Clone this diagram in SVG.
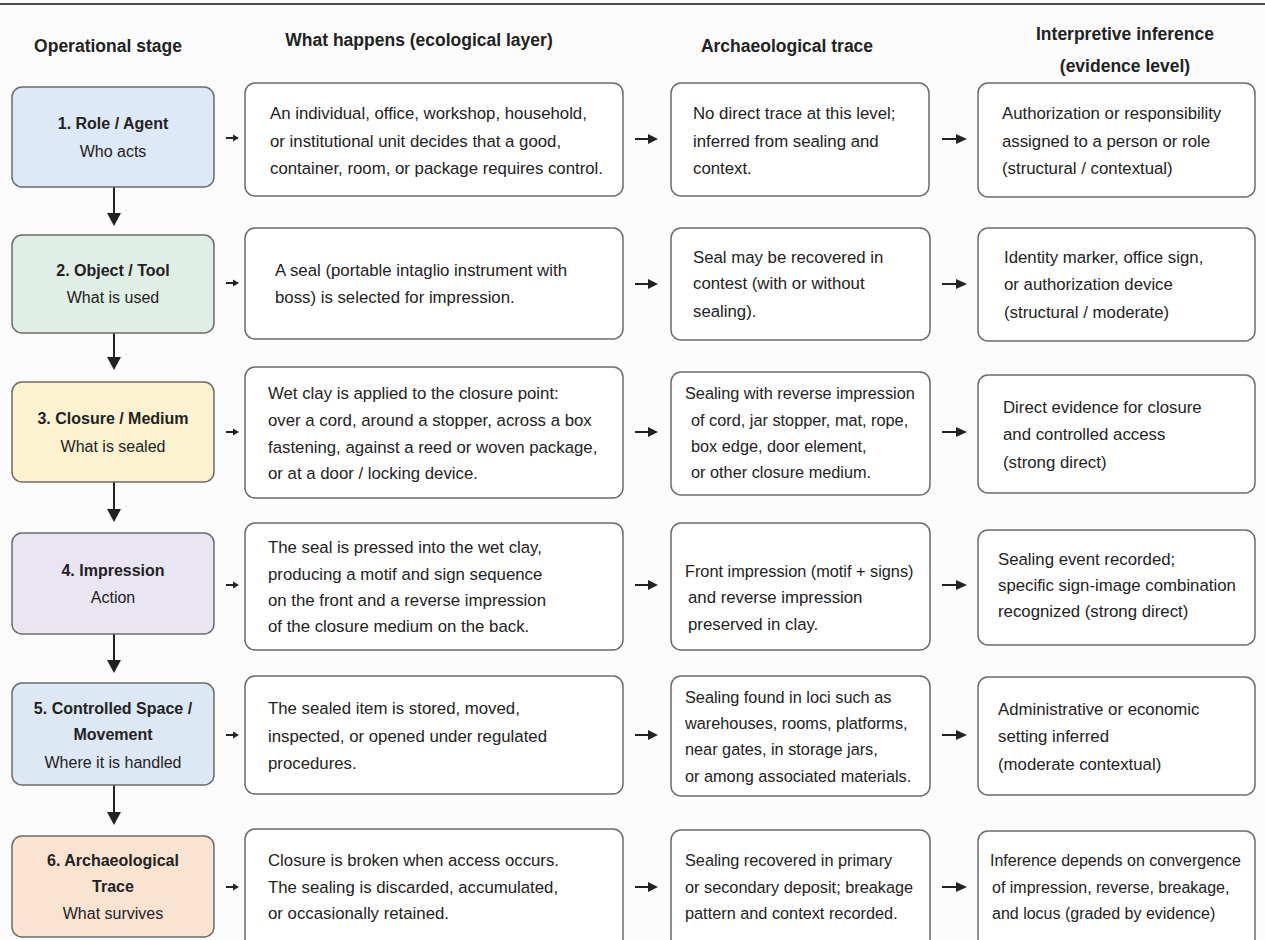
<svg xmlns="http://www.w3.org/2000/svg" width="1265" height="940" viewBox="0 0 1265 940">
<style>
text{font-family:"Liberation Sans",Arial,sans-serif;fill:#222}
.h{font-size:17.5px;font-weight:bold;text-anchor:middle}
.t{font-size:16px;font-weight:bold;text-anchor:middle}
.s{font-size:16px;text-anchor:middle}
.b{font-size:16.8px}
.c{font-size:16.3px}
.d{font-size:16px}
.box{fill:#fff;stroke:#6b6b6b;stroke-width:1.5}
.st{stroke:#6b6b6b;stroke-width:1.5}
.ln{stroke:#222;stroke-width:2;fill:none}
.hd{fill:#222}
</style>
<rect width="1265" height="940" fill="#fcfcfc"/>
<line x1="0" y1="4" x2="1265" y2="4" stroke="#111" stroke-width="1.5"/>
<g id="headers">
<text class="h" x="108" y="52">Operational stage</text>
<text class="h" x="419" y="46">What happens (ecological layer)</text>
<text class="h" x="787" y="52">Archaeological trace</text>
<text class="h" x="1125" y="40">Interpretive inference</text>
<text class="h" x="1125" y="72">(evidence level)</text>
</g>
<g id="connectors">
<line class="ln" x1="114" y1="187" x2="114" y2="214"/><polygon class="hd" points="107,213 121,213 114,226"/>
<line class="ln" x1="114" y1="333" x2="114" y2="358"/><polygon class="hd" points="107,357 121,357 114,370"/>
<line class="ln" x1="114" y1="482" x2="114" y2="510"/><polygon class="hd" points="107,509 121,509 114,522"/>
<line class="ln" x1="114" y1="634" x2="114" y2="661"/><polygon class="hd" points="107,660 121,660 114,673"/>
<line class="ln" x1="114" y1="785" x2="114" y2="813"/><polygon class="hd" points="107,812 121,812 114,825"/>
<g id="a12">
<line class="ln" x1="226" y1="138" x2="234" y2="138" stroke-width="1.5"/><polygon class="hd" points="233,134.5 239,138 233,141.5"/>
<line class="ln" x1="226" y1="283" x2="234" y2="283" stroke-width="1.5"/><polygon class="hd" points="233,279.5 239,283 233,286.5"/>
<line class="ln" x1="226" y1="432" x2="234" y2="432" stroke-width="1.5"/><polygon class="hd" points="233,428.5 239,432 233,435.5"/>
<line class="ln" x1="226" y1="585" x2="234" y2="585" stroke-width="1.5"/><polygon class="hd" points="233,581.5 239,585 233,588.5"/>
<line class="ln" x1="226" y1="735" x2="234" y2="735" stroke-width="1.5"/><polygon class="hd" points="233,731.5 239,735 233,738.5"/>
<line class="ln" x1="226" y1="887" x2="234" y2="887" stroke-width="1.5"/><polygon class="hd" points="233,883.5 239,887 233,890.5"/>
</g>
<g id="a23">
<line class="ln" x1="635" y1="139" x2="651" y2="139"/><polygon class="hd" points="648,134 658,139 648,144"/>
<line class="ln" x1="635" y1="284" x2="651" y2="284"/><polygon class="hd" points="648,279 658,284 648,289"/>
<line class="ln" x1="635" y1="432" x2="651" y2="432"/><polygon class="hd" points="648,427 658,432 648,437"/>
<line class="ln" x1="635" y1="585" x2="651" y2="585"/><polygon class="hd" points="648,580 658,585 648,590"/>
<line class="ln" x1="635" y1="735" x2="651" y2="735"/><polygon class="hd" points="648,730 658,735 648,740"/>
<line class="ln" x1="635" y1="887" x2="651" y2="887"/><polygon class="hd" points="648,882 658,887 648,892"/>
</g>
<g id="a34">
<line class="ln" x1="942" y1="139" x2="958" y2="139"/><polygon class="hd" points="956,134 967,139 956,144"/>
<line class="ln" x1="942" y1="284" x2="958" y2="284"/><polygon class="hd" points="956,279 967,284 956,289"/>
<line class="ln" x1="942" y1="432" x2="958" y2="432"/><polygon class="hd" points="956,427 967,432 956,437"/>
<line class="ln" x1="942" y1="585" x2="958" y2="585"/><polygon class="hd" points="956,580 967,585 956,590"/>
<line class="ln" x1="942" y1="735" x2="958" y2="735"/><polygon class="hd" points="956,730 967,735 956,740"/>
<line class="ln" x1="942" y1="887" x2="958" y2="887"/><polygon class="hd" points="956,882 967,887 956,892"/>
</g>
</g>
<g id="stage1"><rect class="st" x="12" y="87" width="202" height="100" rx="10" fill="#dde9f6"/>
<text class="t" x="113" y="129">1. Role / Agent</text><text class="s" x="113" y="157">Who acts</text></g>
<g id="stage2"><rect class="st" x="12" y="235" width="202" height="98" rx="10" fill="#e0efe5"/>
<text class="t" x="113" y="276">2. Object / Tool</text><text class="s" x="113" y="303">What is used</text></g>
<g id="stage3"><rect class="st" x="12" y="382" width="202" height="100" rx="10" fill="#fcf2cf"/>
<text class="t" x="113" y="424">3. Closure / Medium</text><text class="s" x="113" y="452">What is sealed</text></g>
<g id="stage4"><rect class="st" x="12" y="533" width="202" height="101" rx="10" fill="#e9e5f3"/>
<text class="t" x="113" y="576">4. Impression</text><text class="s" x="113" y="603">Action</text></g>
<g id="stage5"><rect class="st" x="12" y="683" width="202" height="102" rx="10" fill="#dce8f4"/>
<text class="t" x="113" y="714">5. Controlled Space /</text><text class="t" x="113" y="740">Movement</text><text class="s" x="113" y="768">Where it is handled</text></g>
<g id="stage6"><rect class="st" x="12" y="836" width="202" height="101" rx="10" fill="#fbe3d2"/>
<text class="t" x="113" y="866">6. Archaeological</text><text class="t" x="113" y="892">Trace</text><text class="s" x="113" y="919">What survives</text></g>
<g id="eco1"><rect class="box" x="245" y="83" width="378" height="113" rx="10"/>
<text class="b" x="270" y="119">An individual, office, workshop, household,</text>
<text class="b" x="270" y="147">or institutional unit decides that a good,</text>
<text class="b" x="270" y="174">container, room, or package requires control.</text></g>
<g id="eco2"><rect class="box" x="245" y="228" width="378" height="111" rx="10"/>
<text class="b" x="275" y="276">A seal (portable intaglio instrument with</text>
<text class="b" x="275" y="303">boss) is selected for impression.</text></g>
<g id="eco3"><rect class="box" x="245" y="367" width="378" height="131" rx="10"/>
<text class="b" x="268" y="399">Wet clay is applied to the closure point:</text>
<text class="b" x="268" y="426">over a cord, around a stopper, across a box</text>
<text class="b" x="268" y="453">fastening, against a reed or woven package,</text>
<text class="b" x="268" y="479">or at a door / locking device.</text></g>
<g id="eco4"><rect class="box" x="245" y="523" width="378" height="127" rx="10"/>
<text class="b" x="268" y="553">The seal is pressed into the wet clay,</text>
<text class="b" x="268" y="580">producing a motif and sign sequence</text>
<text class="b" x="268" y="606">on the front and a reverse impression</text>
<text class="b" x="268" y="632">of the closure medium on the back.</text></g>
<g id="eco5"><rect class="box" x="245" y="676" width="378" height="118" rx="10"/>
<text class="b" x="268" y="714">The sealed item is stored, moved,</text>
<text class="b" x="268" y="742">inspected, or opened under regulated</text>
<text class="b" x="268" y="769">procedures.</text></g>
<g id="eco6"><rect class="box" x="245" y="829" width="378" height="130" rx="10"/>
<text class="b" x="268" y="866">Closure is broken when access occurs.</text>
<text class="b" x="268" y="893">The sealing is discarded, accumulated,</text>
<text class="b" x="268" y="919">or occasionally retained.</text></g>
<g id="trace1"><rect class="box" x="671" y="83" width="258" height="113" rx="10"/>
<text class="b" x="693" y="119">No direct trace at this level;</text>
<text class="b" x="693" y="147">inferred from sealing and</text>
<text class="b" x="693" y="174">context.</text></g>
<g id="trace2"><rect class="box" x="671" y="228" width="259" height="112" rx="10"/>
<text class="b" x="693" y="263">Seal may be recovered in</text>
<text class="b" x="693" y="289">contest (with or without</text>
<text class="b" x="693" y="317">sealing).</text></g>
<g id="trace3"><rect class="box" x="671" y="372" width="259" height="123" rx="10"/>
<text class="c" x="685" y="399">Sealing with reverse impression</text>
<text class="c" x="691" y="426">of cord, jar stopper, mat, rope,</text>
<text class="c" x="691" y="452">box edge, door element,</text>
<text class="c" x="691" y="478">or other closure medium.</text></g>
<g id="trace4"><rect class="box" x="671" y="523" width="259" height="127" rx="10"/>
<text class="c" x="685" y="577">Front impression (motif + signs)</text>
<text class="b" x="688" y="603">and reverse impression</text>
<text class="b" x="688" y="630">preserved in clay.</text></g>
<g id="trace5"><rect class="box" x="671" y="676" width="259" height="120" rx="10"/>
<text class="c" x="685" y="703">Sealing found in loci such as</text>
<text class="c" x="685" y="729">warehouses, rooms, platforms,</text>
<text class="c" x="685" y="755">near gates, in storage jars,</text>
<text class="c" x="685" y="782">or among associated materials.</text></g>
<g id="trace6"><rect class="box" x="671" y="830" width="259" height="130" rx="10"/>
<text class="c" x="685" y="866">Sealing recovered in primary</text>
<text class="c" x="685" y="893">or secondary deposit; breakage</text>
<text class="c" x="685" y="919">pattern and context recorded.</text></g>
<g id="inf1"><rect class="box" x="978" y="83" width="277" height="114" rx="10"/>
<text class="b" x="1002" y="119">Authorization or responsibility</text>
<text class="b" x="1002" y="147">assigned to a person or role</text>
<text class="b" x="1002" y="174">(structural / contextual)</text></g>
<g id="inf2"><rect class="box" x="978" y="228" width="277" height="113" rx="10"/>
<text class="b" x="1004" y="263">Identity marker, office sign,</text>
<text class="b" x="1004" y="290">or authorization device</text>
<text class="b" x="1004" y="318">(structural / moderate)</text></g>
<g id="inf3"><rect class="box" x="978" y="375" width="277" height="118" rx="10"/>
<text class="b" x="1003" y="413">Direct evidence for closure</text>
<text class="b" x="1003" y="440">and controlled access</text>
<text class="b" x="1003" y="468">(strong direct)</text></g>
<g id="inf4"><rect class="box" x="978" y="530" width="277" height="115" rx="10"/>
<text class="b" x="998" y="565">Sealing event recorded;</text>
<text class="b" x="998" y="591">specific sign-image combination</text>
<text class="b" x="998" y="617">recognized (strong direct)</text></g>
<g id="inf5"><rect class="box" x="978" y="677" width="277" height="118" rx="10"/>
<text class="b" x="998" y="715">Administrative or economic</text>
<text class="b" x="998" y="742">setting inferred</text>
<text class="b" x="998" y="770">(moderate contextual)</text></g>
<g id="inf6"><rect class="box" x="978" y="831" width="277" height="130" rx="10"/>
<text class="d" x="990" y="866">Inference depends on convergence</text>
<text class="d" x="992" y="893">of impression, reverse, breakage,</text>
<text class="d" x="992" y="919">and locus (graded by evidence)</text></g>
</svg>
